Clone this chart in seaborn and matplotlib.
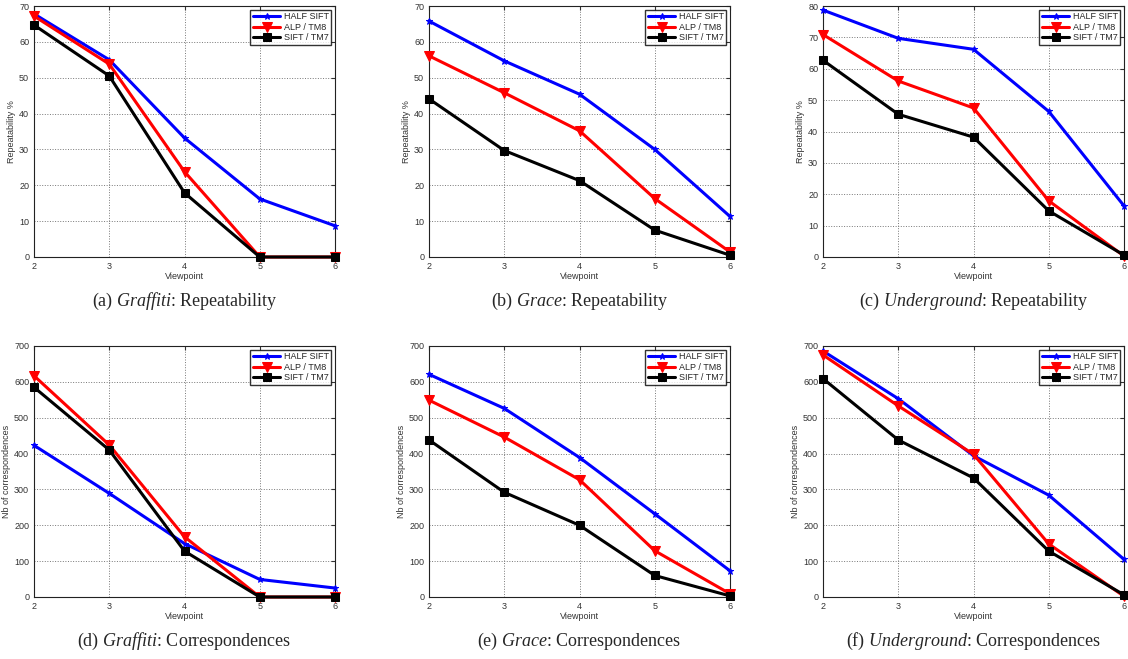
import pandas as pd
import numpy as np
import matplotlib.pyplot as plt
import seaborn as sns

# viewpoints on the x axis
viewpoints = [2, 3, 4, 5, 6]
methods = ["HALF SIFT", "ALP / TM8", "SIFT / TM7"]

# repeatability % (top row)
graffiti_rep = {
    "HALF SIFT": [67.8, 55.0, 33.2, 16.2, 8.7],
    "ALP / TM8": [67.2, 53.8, 23.8, 0.0, 0.0],
    "SIFT / TM7": [64.7, 50.5, 17.9, 0.0, 0.0],
}
grace_rep = {
    "HALF SIFT": [65.8, 54.7, 45.4, 30.0, 11.3],
    "ALP / TM8": [56.1, 45.8, 35.2, 16.3, 1.4],
    "SIFT / TM7": [44.1, 29.7, 21.3, 7.5, 0.5],
}
underground_rep = {
    "HALF SIFT": [78.7, 69.7, 66.2, 46.4, 16.3],
    "ALP / TM8": [70.9, 56.1, 47.5, 17.9, 0.3],
    "SIFT / TM7": [62.7, 45.5, 38.2, 14.7, 0.6],
}

# number of correspondences (bottom row)
graffiti_corr = {
    "HALF SIFT": [423, 289, 149, 49, 25],
    "ALP / TM8": [617, 424, 168, 0, 0],
    "SIFT / TM7": [585, 410, 128, 0, 0],
}
grace_corr = {
    "HALF SIFT": [621, 526, 389, 232, 73],
    "ALP / TM8": [549, 446, 327, 129, 9],
    "SIFT / TM7": [438, 292, 200, 60, 3],
}
underground_corr = {
    "HALF SIFT": [686, 553, 394, 284, 105],
    "ALP / TM8": [675, 533, 398, 148, 2],
    "SIFT / TM7": [609, 438, 332, 128, 6],
}

captions = [
    ("(a) ", "Graffiti", ": Repeatability"),
    ("(b) ", "Grace", ": Repeatability"),
    ("(c) ", "Underground", ": Repeatability"),
    ("(d) ", "Graffiti", ": Correspondences"),
    ("(e) ", "Grace", ": Correspondences"),
    ("(f) ", "Underground", ": Correspondences"),
]

panels = [
    (graffiti_rep, 70, 10, "Repeatability %"),
    (grace_rep, 70, 10, "Repeatability %"),
    (underground_rep, 80, 10, "Repeatability %"),
    (graffiti_corr, 700, 100, "Nb of correspondences"),
    (grace_corr, 700, 100, "Nb of correspondences"),
    (underground_corr, 700, 100, "Nb of correspondences"),
]

palette = {"HALF SIFT": "#0000ff", "ALP / TM8": "#ff0000", "SIFT / TM7": "#000000"}
markers = {"HALF SIFT": "*", "ALP / TM8": "v", "SIFT / TM7": "s"}
msizes = {"HALF SIFT": 4.5, "ALP / TM8": 7, "SIFT / TM7": 5.5}

sns.set_style("white")
plt.rcParams["font.family"] = ["Liberation Sans", "DejaVu Sans"]
plt.rcParams["mathtext.fontset"] = "custom"
plt.rcParams["mathtext.rm"] = "Liberation Serif"
plt.rcParams["mathtext.it"] = "Liberation Serif:italic"

fig = plt.figure(figsize=(11.28, 6.59), dpi=100)
W, H = 1128, 659
lefts = [34, 429, 823]
tops = [6, 346]
aw, ah = 301, 251

for i, (data, ymax, ystep, ylabel) in enumerate(panels):
    row, col = divmod(i, 3)
    x0 = lefts[col]
    y0 = tops[row]
    ax = fig.add_axes([x0 / W, 1 - (y0 + ah) / H, aw / W, ah / H])

    df = pd.DataFrame(
        [(v, m, data[m][k]) for m in methods for k, v in enumerate(viewpoints)],
        columns=["Viewpoint", "Method", "Value"],
    )
    for m in methods:
        sub = df[df["Method"] == m]
        sns.lineplot(
            data=sub, x="Viewpoint", y="Value", ax=ax, label=m,
            color=palette[m], marker=markers[m], markersize=msizes[m],
            markeredgecolor=palette[m], linewidth=2.2, clip_on=False, zorder=3,
        )

    ax.set_xlim(2, 6)
    ax.set_ylim(0, ymax)
    ax.set_xticks(viewpoints)
    ax.set_yticks(np.arange(0, ymax + 1, ystep))
    ax.grid(True, linestyle=":", color="#777777", linewidth=0.7)
    ax.tick_params(direction="in", labelsize=6.5, length=3, top=True, right=True,
                   colors="#333333")
    for s in ax.spines.values():
        s.set_color("#222222")
        s.set_linewidth(0.8)
    ax.set_xlabel("Viewpoint", fontsize=6.5, labelpad=1, color="#333333")
    ax.set_ylabel(ylabel, fontsize=6.5, labelpad=2, color="#333333")

    leg = ax.legend(loc="upper right", fontsize=6.5, handlelength=3.0,
                    frameon=True, fancybox=False, borderpad=0.3,
                    labelspacing=0.15, handletextpad=0.4, borderaxespad=0.4)
    leg.get_frame().set_edgecolor("black")
    leg.get_frame().set_linewidth(1.0)

    a, it, b = captions[i]
    cx = (x0 + aw / 2) / W
    cy = 1 - (y0 + ah + 44) / H
    fig.text(cx, cy, a + r"$\mathit{" + it + "}$" + b, ha="center", va="center",
             fontsize=13, family="Liberation Serif")

fig.savefig("out.png", dpi=100)
